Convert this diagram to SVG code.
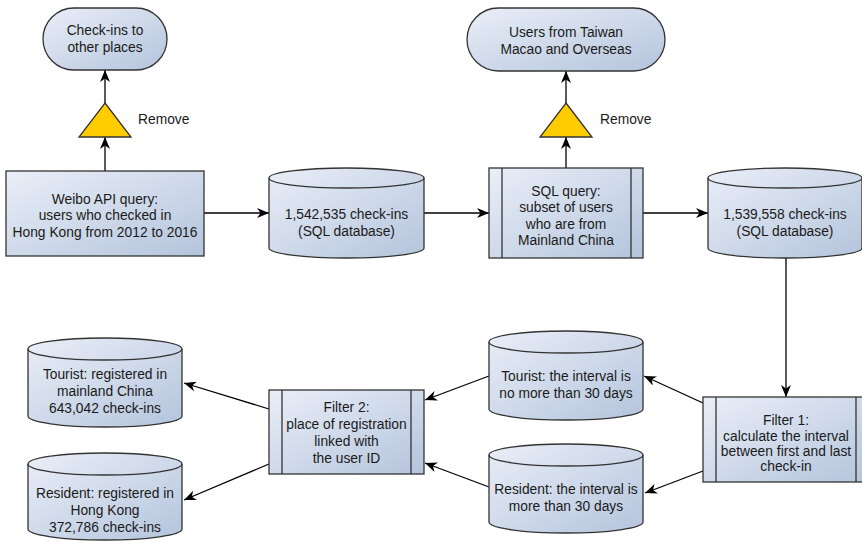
<svg xmlns="http://www.w3.org/2000/svg" width="862" height="542" viewBox="0 0 862 542">
<defs>
<linearGradient id="g" x1="0" y1="0" x2="1" y2="1">
<stop offset="0" stop-color="#eaeff8"/>
<stop offset="1" stop-color="#b4c4dc"/>
</linearGradient>
<marker id="ah" viewBox="0 0 12 10" refX="12" refY="5" markerWidth="12" markerHeight="10" markerUnits="userSpaceOnUse" orient="auto">
<path d="M0,0 L12,5 L0,10 L3.5,5 Z" fill="#000"/>
</marker>
<style>
.sh{fill:url(#g);stroke:#333;stroke-width:1.3}
.ln{fill:none;stroke:#333;stroke-width:1.3}
.tri{fill:#ffcc00;stroke:#333;stroke-width:1.3}
.c{stroke:#000;stroke-width:1.3;fill:none;marker-end:url(#ah)}
text{font-family:"Liberation Sans",Arial,sans-serif;font-size:13.8px;fill:#1a1a1a;text-anchor:middle}
.l{text-anchor:start}
</style>
</defs>

<g id="connectors">
<line class="c" x1="105" y1="171" x2="105" y2="137"/>
<line class="c" x1="105" y1="103" x2="105" y2="70"/>
<line class="c" x1="204" y1="213" x2="269" y2="213"/>
<line class="c" x1="424" y1="213" x2="489" y2="213"/>
<line class="c" x1="566" y1="168" x2="566" y2="137"/>
<line class="c" x1="566" y1="103" x2="566" y2="71"/>
<line class="c" x1="643" y1="213" x2="708" y2="213"/>
<line class="c" x1="786" y1="258" x2="786" y2="397"/>
<line class="c" x1="703" y1="403" x2="644" y2="376"/>
<line class="c" x1="703" y1="471" x2="645" y2="493"/>
<line class="c" x1="489" y1="376" x2="425" y2="400"/>
<line class="c" x1="489" y1="487" x2="425" y2="463"/>
<line class="c" x1="269" y1="409" x2="184" y2="383"/>
<line class="c" x1="269" y1="464" x2="184" y2="500"/>
</g>

<g id="term1">
<rect class="sh" x="43" y="8" width="124" height="62" rx="31"/>
<text x="105" y="35">Check-ins to</text>
<text x="105" y="52">other places</text>
</g>

<g id="remove1">
<polygon class="tri" points="105,103 131,137 79,137"/>
<text class="l" x="138" y="124">Remove</text>
</g>

<g id="weibo">
<rect class="sh" x="6" y="171" width="198" height="85"/>
<text x="105" y="204">Weibo API query:</text>
<text x="105" y="220">users who checked in</text>
<text x="105" y="237">Hong Kong from 2012 to 2016</text>
</g>

<g id="db1">
<path class="sh" d="M269,178 A77.5,10 0 0 1 424,178 V248 A77.5,10 0 0 1 269,248 Z"/>
<path class="ln" d="M269,178 A77.5,10 0 0 0 424,178"/>
<text x="346.5" y="219">1,542,535 check-ins</text>
<text x="346.5" y="236">(SQL database)</text>
</g>

<g id="sqlquery">
<rect class="sh" x="489" y="168" width="154" height="90"/>
<line class="ln" x1="502" y1="168" x2="502" y2="258"/>
<line class="ln" x1="631" y1="168" x2="631" y2="258"/>
<text x="566" y="196">SQL query:</text>
<text x="566" y="212">subset of users</text>
<text x="566" y="229">who are from</text>
<text x="566" y="245">Mainland China</text>
</g>

<g id="term2">
<rect class="sh" x="467" y="8" width="198" height="63" rx="31.5"/>
<text x="566" y="37">Users from Taiwan</text>
<text x="566" y="54">Macao and Overseas</text>
</g>

<g id="remove2">
<polygon class="tri" points="566,103 592,137 540,137"/>
<text class="l" x="600" y="124">Remove</text>
</g>

<g id="db2">
<path class="sh" d="M708,178 A77,10 0 0 1 862,178 V248 A77,10 0 0 1 708,248 Z"/>
<path class="ln" d="M708,178 A77,10 0 0 0 862,178"/>
<text x="785" y="219">1,539,558 check-ins</text>
<text x="785" y="236">(SQL database)</text>
</g>

<g id="filter1">
<rect class="sh" x="703" y="397" width="166" height="85"/>
<line class="ln" x1="716" y1="397" x2="716" y2="482"/>
<line class="ln" x1="856" y1="397" x2="856" y2="482"/>
<text x="786" y="425">Filter 1:</text>
<text x="786" y="441">calculate the interval</text>
<text x="786" y="456">between first and last</text>
<text x="786" y="471">check-in</text>
</g>

<g id="db-tourist-interval">
<path class="sh" d="M489,342 A77,11 0 0 1 643,342 V409 A77,11 0 0 1 489,409 Z"/>
<path class="ln" d="M489,342 A77,11 0 0 0 643,342"/>
<text x="566" y="381">Tourist: the interval is</text>
<text x="566" y="398">no more than 30 days</text>
</g>

<g id="db-resident-interval">
<path class="sh" d="M489,455 A77,11 0 0 1 643,455 V522 A77,11 0 0 1 489,522 Z"/>
<path class="ln" d="M489,455 A77,11 0 0 0 643,455"/>
<text x="566" y="494">Resident: the interval is</text>
<text x="566" y="511">more than 30 days</text>
</g>

<g id="filter2">
<rect class="sh" x="269" y="390" width="155" height="84"/>
<line class="ln" x1="282" y1="390" x2="282" y2="474"/>
<line class="ln" x1="411" y1="390" x2="411" y2="474"/>
<text x="346.5" y="412">Filter 2:</text>
<text x="346.5" y="429">place of registration</text>
<text x="346.5" y="446">linked with</text>
<text x="346.5" y="463">the user ID</text>
</g>

<g id="db-tourist">
<path class="sh" d="M28,349 A77,11 0 0 1 182,349 V416 A77,11 0 0 1 28,416 Z"/>
<path class="ln" d="M28,349 A77,11 0 0 0 182,349"/>
<text x="105" y="379">Tourist: registered in</text>
<text x="105" y="396">mainland China</text>
<text x="105" y="413">643,042 check-ins</text>
</g>

<g id="db-resident">
<path class="sh" d="M28,464 A77,11 0 0 1 182,464 V529 A77,11 0 0 1 28,529 Z"/>
<path class="ln" d="M28,464 A77,11 0 0 0 182,464"/>
<text x="105" y="498">Resident: registered in</text>
<text x="105" y="515">Hong Kong</text>
<text x="105" y="532">372,786 check-ins</text>
</g>
</svg>
